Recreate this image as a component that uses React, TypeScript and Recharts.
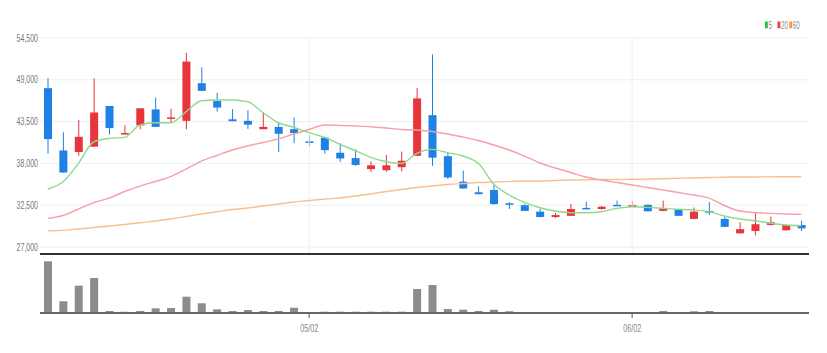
import React from "react";
import {
  ComposedChart,
  Bar,
  Line,
  XAxis,
  YAxis,
  CartesianGrid,
  ReferenceLine,
} from "recharts";

const dates = [
  "04/06", "04/07", "04/10", "04/11", "04/12", "04/13", "04/14", "04/17", "04/18", "04/19",
  "04/20", "04/21", "04/24", "04/25", "04/26", "04/27", "04/28", "05/02", "05/03", "05/04",
  "05/08", "05/09", "05/10", "05/11", "05/12", "05/15", "05/16", "05/17", "05/18", "05/19",
  "05/22", "05/23", "05/24", "05/25", "05/26", "05/30", "05/31", "06/01", "06/02", "06/05",
  "06/07", "06/08", "06/09", "06/12", "06/13", "06/14", "06/15", "06/16", "06/19", "06/20",
];

const opens = [
  47900, 39700, 39500, 40200, 45550, 41800, 43000, 45100, 43900, 43600,
  48550, 46200, 43800, 43600, 42500, 42800, 42500, 40900, 41400, 39400,
  38700, 37250, 37100, 37500, 39000, 44350, 38950, 35600, 34200, 34500,
  32750, 32500, 31650, 30950, 31100, 32150, 32000, 32550, 32250, 32550,
  31750, 32000, 30700, 31750, 30700, 28800, 29100, 29900, 29200, 29900,
];
const highs = [
  49200, 42100, 43700, 49200, 45550, 43050, 45250, 46650, 45200, 52550,
  50650, 47300, 45150, 45000, 44750, 43300, 44050, 41700, 41500, 40650,
  39850, 38250, 39100, 39550, 47900, 52350, 39400, 37050, 35000, 35150,
  32900, 32650, 32000, 31500, 32650, 32950, 32400, 33100, 33050, 32600,
  33100, 32000, 32200, 32900, 31000, 30250, 31450, 31000, 29950, 30450,
];
const lows = [
  39300, 36800, 39000, 40200, 41800, 41800, 42500, 42800, 43300, 42500,
  47550, 44800, 43550, 42550, 42500, 39500, 40650, 40200, 39300, 38200,
  37650, 36850, 36900, 36950, 38950, 37650, 35950, 34700, 33950, 32550,
  32000, 31750, 30900, 30800, 31100, 31950, 31900, 32400, 32250, 31700,
  31700, 31100, 30650, 31200, 29650, 28750, 28550, 29850, 29150, 29100,
];
const closes = [
  41200, 36800, 41500, 44700, 42650, 42000, 45250, 42800, 44050, 51400,
  47550, 45350, 43550, 43100, 42800, 41900, 42000, 40750, 39750, 38650,
  37800, 37750, 37750, 38350, 46550, 38750, 36150, 34700, 33950, 32650,
  32550, 31750, 30950, 31200, 32000, 31950, 32300, 32400, 32500, 31700,
  32100, 31100, 31650, 31500, 29650, 29350, 30000, 30250, 29900, 29450,
];

const ma5 = [
  34630, 35590, 38010, 40850, 41300, 41430, 43050, 43350, 43350, 44800,
  46250, 46340, 46340, 46120, 44670, 43350, 42750, 42040, 41430, 40510,
  39670, 38800, 38220, 38010, 39330, 39850, 39410, 38970, 38010, 35290,
  33840, 32880, 32170, 31730, 31510, 31510, 31640, 32090, 32300, 32220,
  32090, 31960, 31870, 31640, 31080, 30680, 30460, 30120, 29890, 29800,
];
const ma20 = [
  30770, 31140, 32000, 32850, 33440, 34300, 35020, 35620, 36270, 37260,
  38310, 39040, 39760, 40290, 40750, 41210, 41870, 42460, 43050, 42990,
  42920, 42830, 42660, 42460, 42390, 42200, 41870, 41470, 41010, 40420,
  39760, 38970, 38050, 37390, 36800, 36210, 35810, 35480, 35160, 34830,
  34500, 34170, 33840, 33440, 32460, 31730, 31540, 31430, 31340, 31300,
];
const ma60 = [
  29140, 29190, 29360, 29560, 29760, 29960, 30190, 30420, 30680, 31010,
  31340, 31640, 31930, 32130, 32390, 32650, 32920, 33120, 33310, 33440,
  33710, 33970, 34300, 34560, 34830, 35020, 35220, 35350, 35480, 35550,
  35620, 35680, 35680, 35750, 35810, 35850, 35880, 35890, 35910, 35940,
  35980, 36040, 36080, 36140, 36180, 36210, 36220, 36230, 36250, 36250,
];

const volumes = [
  5170000, 1170000, 2730000, 3500000, 200000, 130000, 200000, 470000, 500000, 1630000,
  970000, 370000, 200000, 300000, 200000, 200000, 530000, 100000, 130000, 130000,
  130000, 130000, 130000, 130000, 2400000, 2800000, 400000, 330000, 200000, 330000,
  170000, 70000, 70000, 70000, 70000, 70000, 70000, 70000, 70000, 70000,
  200000, 70000, 170000, 200000, 70000, 70000, 70000, 70000, 70000, 70000,
];

const yTicks = [27000, 32500, 38000, 43500, 49000, 54500];
const xTicks = ["05/02", "06/02"];

const RED = "#e8343b";
const BLUE = "#1f80e6";

const data = dates.map((d, i) => ({
  date: d,
  open: opens[i],
  high: highs[i],
  low: lows[i],
  close: closes[i],
  range: [lows[i], highs[i]],
  ma5: ma5[i],
  ma20: ma20[i],
  ma60: ma60[i],
  volume: volumes[i],
}));

const FONT = "'Liberation Sans', Arial, sans-serif";

const Candle = (props: any) => {
  const { x, y, width, height, payload } = props;
  if (!payload) return null;
  const { open, close, high, low } = payload;
  const color = close >= open ? RED : BLUE;
  const top = Math.min(y, y + height);
  const h = Math.abs(height);
  const ratio = high > low ? h / (high - low) : 0;
  const yOf = (v: number) => top + (high - v) * ratio;
  const bodyTop = yOf(Math.max(open, close));
  const bodyBot = yOf(Math.min(open, close));
  const cx = x + width / 2;
  return (
    <g>
      <line x1={cx} x2={cx} y1={top} y2={top + h} stroke={color} strokeWidth={1} />
      <rect
        x={x}
        y={bodyTop}
        width={width}
        height={Math.max(1.5, bodyBot - bodyTop)}
        fill={color}
      />
    </g>
  );
};

// narrow gray tick text, squeezed horizontally like the original
const PriceTick = (props: any) => {
  const { y, payload } = props;
  return (
    <g transform={`translate(38,${y})`}>
      <text
        transform="scale(0.7,1)"
        textAnchor="end"
        dy="0.35em"
        fontSize={10}
        fill="#777"
        fontFamily={FONT}
      >
        {Number(payload.value).toLocaleString("en-US")}
      </text>
    </g>
  );
};

const DateTick = (props: any) => {
  const { x, y, payload } = props;
  return (
    <g transform={`translate(${x},${y})`}>
      <text
        transform="scale(0.72,1)"
        textAnchor="middle"
        dy="0.71em"
        fontSize={10}
        fill="#888"
        fontFamily={FONT}
      >
        {payload.value}
      </text>
    </g>
  );
};

const legendItems = [
  { label: "5", color: "#2fbf3f", sq: 765, tx: 768.5 },
  { label: "20", color: "#ef3b4a", sq: 777.5, tx: 781 },
  { label: "60", color: "#f59a3a", sq: 789.3, tx: 792.7 },
];

export default function App() {
  return (
    <div
      style={{
        position: "absolute",
        left: 0,
        top: 0,
        width: 827,
        height: 353,
        background: "#fff",
        fontFamily: FONT,
      }}
    >
      <svg
        width={827}
        height={40}
        style={{ position: "absolute", left: 0, top: 0, zIndex: 2 }}
      >
        {legendItems.map((it) => (
          <g key={it.label}>
            <rect x={it.sq} y={21.5} width={2.8} height={6.8} fill={it.color} />
            <g transform={`translate(${it.tx},25)`}>
              <text
                transform="scale(0.62,1)"
                dy="0.35em"
                fontSize={10}
                fill="#888"
                fontFamily={FONT}
              >
                {it.label}
              </text>
            </g>
          </g>
        ))}
      </svg>

      <div style={{ position: "absolute", left: 0, top: 0 }}>
        <ComposedChart
          width={827}
          height={256}
          data={data}
          margin={{ top: 38, right: 18, bottom: 0, left: 0 }}
          barCategoryGap={0}
        >
          <CartesianGrid stroke="#eeeeee" vertical={false} />
          <ReferenceLine x="05/02" stroke="#eeeeee" />
          <ReferenceLine x="06/02" stroke="#eeeeee" />
          <XAxis
            dataKey="date"
            ticks={xTicks}
            tick={false}
            tickLine={false}
            height={2}
            axisLine={{ stroke: "#333", strokeWidth: 2 }}
          />
          <YAxis
            domain={[26080, 54500]}
            ticks={yTicks}
            interval={0}
            allowDataOverflow
            width={40}
            axisLine={false}
            tickLine={false}
            tick={<PriceTick />}
          />
          <Line type="monotone" dataKey="ma60" stroke="#f9c08e" strokeWidth={1.4} dot={false} isAnimationActive={false} />
          <Line type="monotone" dataKey="ma20" stroke="#f5a0a6" strokeWidth={1.4} dot={false} isAnimationActive={false} />
          <Line type="monotone" dataKey="ma5" stroke="#8fd98c" strokeWidth={1.4} dot={false} isAnimationActive={false} />
          <Bar dataKey="range" barSize={8} shape={<Candle />} isAnimationActive={false} />
        </ComposedChart>
      </div>

      <div style={{ position: "absolute", left: 0, top: 256 }}>
        <ComposedChart
          width={827}
          height={97}
          data={data}
          margin={{ top: 2, right: 18, bottom: 10, left: 40 }}
        >
          <XAxis
            dataKey="date"
            ticks={xTicks}
            interval={0}
            height={30}
            tickSize={5}
            tickMargin={7}
            axisLine={{ stroke: "#666", strokeWidth: 2 }}
            tickLine={{ stroke: "#555" }}
            tick={<DateTick />}
          />
          <YAxis hide domain={[0, 5500000]} />
          <Bar dataKey="volume" fill="#8c8c8c" barSize={8} isAnimationActive={false} />
        </ComposedChart>
      </div>
    </div>
  );
}
